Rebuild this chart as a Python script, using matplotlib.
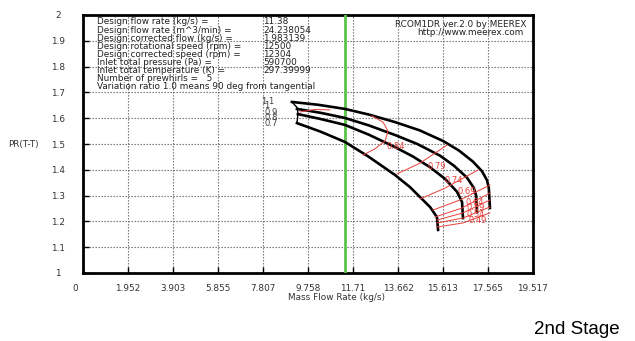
import matplotlib
matplotlib.use("Agg")
import matplotlib.pyplot as plt
from matplotlib.transforms import ScaledTranslation

# ---------------- data ----------------
x_ticks = [0, 1.952, 3.903, 5.855, 7.807, 9.758, 11.71, 13.662, 15.613, 17.565, 19.517]
x_tick_labels = ["0", "1.952", "3.903", "5.855", "7.807", "9.758", "11.71", "13.662", "15.613", "17.565", "19.517"]
y_ticks = [1, 1.1, 1.2, 1.3, 1.4, 1.5, 1.6, 1.7, 1.8, 1.9, 2]
y_tick_labels = ["1", "1.1", "1.2", "1.3", "1.4", "1.5", "1.6", "1.7", "1.8", "1.9", "2"]

design_flow = 11.38

info_names = ["Design flow rate (kg/s) =", "Design flow rate (m^3/min) =",
              "Design corrected flow (kg/s) =", "Design rotational speed (rpm) =",
              "Design corrected speed (rpm) =", "Inlet total pressure (Pa) =",
              "Inlet total temperature (K) =", "Number of prewhirls =   5",
              "Variation ratio 1.0 means 90 deg from tangential"]
info_values = ["11.38", "24.238054", "1.983139", "12500", "12304", "590700", "297.39999", "", ""]

speed_labels = ["1.1", "1", "0.9", "0.8", "0.7"]
speed_label_y = [1.663, 1.650, 1.624, 1.601, 1.578]

# speed lines (x: mass flow, y: pressure ratio)
sp11_x = [9.06, 10.2, 11.36, 12.4, 13.53, 14.6, 15.61, 16.3, 16.91, 17.3, 17.52, 17.6, 17.65]
sp11_y = [1.663, 1.652, 1.636, 1.614, 1.585, 1.553, 1.512, 1.475, 1.432, 1.395, 1.360, 1.330, 1.252]
sp09_x = [9.28, 10.3, 11.36, 12.4, 13.53, 14.5, 15.48, 16.1, 16.65, 16.95, 17.05, 17.09]
sp09_y = [1.636, 1.621, 1.601, 1.572, 1.535, 1.500, 1.455, 1.415, 1.370, 1.330, 1.300, 1.236]
sp08_x = [9.32, 10.3, 11.36, 12.4, 13.53, 14.3, 15.05, 15.7, 16.22, 16.44, 16.48]
sp08_y = [1.616, 1.597, 1.574, 1.536, 1.488, 1.452, 1.410, 1.365, 1.315, 1.275, 1.213]
sp07_x = [9.28, 10.3, 11.36, 12.4, 13.53, 14.18, 15.05, 15.35, 15.40]
sp07_y = [1.581, 1.548, 1.508, 1.450, 1.380, 1.333, 1.256, 1.217, 1.167]
speed_x = [sp11_x, sp09_x, sp08_x, sp07_x]
speed_y = [sp11_y, sp09_y, sp08_y, sp07_y]

# surge line
surge_x = [9.06, 9.30, 9.32, 9.30, 9.28]
surge_y = [1.663, 1.640, 1.616, 1.597, 1.581]

# efficiency contour lines
eff_labels = ["0.84", "0.79", "0.74", "0.69", "0.64", "0.59", "0.54", "0.49"]
eff_x = [[12.14, 12.66, 13.10, 13.23, 13.01, 12.53],
         [13.62, 14.62, 15.79],
         [14.62, 15.70, 17.13],
         [15.18, 16.35, 17.65],
         [15.27, 16.44, 17.65],
         [15.35, 16.48, 17.65],
         [15.35, 16.48, 17.65],
         [15.35, 16.48, 17.65]]
eff_y = [[1.457, 1.481, 1.512, 1.550, 1.585, 1.609],
         [1.384, 1.426, 1.496],
         [1.287, 1.329, 1.399],
         [1.244, 1.283, 1.341],
         [1.217, 1.252, 1.310],
         [1.205, 1.233, 1.283],
         [1.194, 1.213, 1.256],
         [1.178, 1.194, 1.233]]
eff_label_x = [13.18, 14.96, 15.70, 16.26, 16.57, 16.65, 16.65, 16.70]
eff_label_y = [1.492, 1.411, 1.360, 1.314, 1.275, 1.252, 1.225, 1.205]
eff84_island_x = [9.41, 10.06, 10.71]
eff84_island_y = [1.624, 1.634, 1.632]

# ---------------- figure ----------------
W, H = 635, 341
FS = 6.4
fig = plt.figure(figsize=(W / 100, H / 100), dpi=100)
ax = fig.add_axes([83 / W, (H - 273) / H, 450 / W, 258 / H])
ax.set_xlim(0, 19.517)
ax.set_ylim(1, 2)

txt_col = "#333333"
ax.set_xticks(x_ticks)
ax.set_xticklabels(x_tick_labels)
ax.set_yticks(y_ticks)
ax.set_yticklabels(y_tick_labels)
ax.tick_params(direction="in", length=4, width=1, labelsize=FS, colors="black",
               labelcolor=txt_col)
ax.tick_params(axis="x", pad=8)
ax.tick_params(axis="y", pad=18)
for lab in ax.get_yticklabels():
    lab.set_horizontalalignment("center")
first = ax.get_xticklabels()[0]
first.set_transform(first.get_transform() + ScaledTranslation(-8 / 100, 0, fig.dpi_scale_trans))
for s in ax.spines.values():
    s.set_linewidth(2)
    s.set_color("black")
ax.grid(True, linestyle=(0, (1.2, 1.5)), color="#666666", linewidth=0.8)

# design flow line
ax.axvline(design_flow, color="#5cc24a", linewidth=2, zorder=3)

# speed lines
for xs, ys in zip(speed_x, speed_y):
    ax.plot(xs, ys, color="black", linewidth=1.9, zorder=4, solid_joinstyle="round")
ax.plot(surge_x, surge_y, color="black", linewidth=1.0, zorder=4)

for lab, yy in zip(speed_labels, speed_label_y):
    ax.text(7.86 if lab != "1.1" else 7.72, yy, lab, fontsize=FS - 0.3, color="#444444",
            ha="left", va="center")

# efficiency lines
red = "#e8403a"
for xs, ys in zip(eff_x, eff_y):
    ax.plot(xs, ys, color=red, linewidth=0.7, zorder=5)
ax.plot(eff84_island_x, eff84_island_y, color=red, linewidth=0.7, zorder=5)
for lab, xx, yy in zip(eff_labels, eff_label_x, eff_label_y):
    ax.text(xx, yy, lab, fontsize=FS - 0.4, color=red, ha="left", va="center", zorder=6)

# info box
y0 = 1.973
dy = 0.0315
for i, (n, v) in enumerate(zip(info_names, info_values)):
    ax.text(0.61, y0 - i * dy, n, fontsize=FS, color="#222222", ha="left", va="center")
    if v:
        ax.text(7.81, y0 - i * dy, v, fontsize=FS, color="#222222", ha="left", va="center")

ax.text(19.25, 1.965, "RCOM1DR ver.2.0 by MEEREX", fontsize=FS, color="#222222",
        ha="right", va="center")
ax.text(19.12, 1.934, "http://www.meerex.com", fontsize=FS, color="#222222",
        ha="right", va="center")

fig.text(23 / W, 1 - 144 / H, "PR(T-T)", fontsize=FS, color=txt_col, ha="center", va="center")
fig.text(336 / W, 1 - 297 / H, "Mass Flow Rate (kg/s)", fontsize=FS, color=txt_col,
         ha="center", va="center")
fig.text(620 / W, 1 - 330 / H, "2nd Stage", fontsize=13.5, color="black",
         ha="right", va="center", family="Liberation Sans")

fig.savefig("out.png", dpi=100)
